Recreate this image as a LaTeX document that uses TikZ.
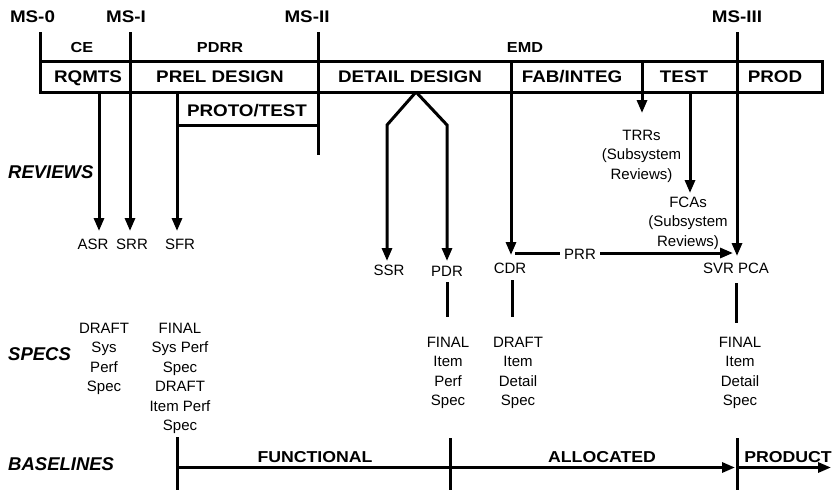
\documentclass[tikz,border=0pt]{standalone}
\usepackage{fontspec}
\setmainfont{Liberation Sans}
\newfontfamily\widesans{Liberation Sans}[FakeStretch=1.12]
\usetikzlibrary{arrows.meta}
\newcommand\stacklines[1]{\vtop{\baselineskip=19.5pt\lineskiplimit=-20pt\lineskip=0pt\halign{\hfil##\hfil\cr#1\crcr}}}
\begin{document}
\begin{tikzpicture}[x=1pt,y=-1pt,
  heavy/.style={line width=3pt},
  arrowline/.style={line width=3pt,-{Triangle[length=13pt,width=10pt]}},
  mslabel/.style={font=\widesans\bfseries\fontsize{16.8}{20}\selectfont,inner sep=0,anchor=base},
  phaselabel/.style={font=\widesans\bfseries\fontsize{14.5}{17}\selectfont,inner sep=0,anchor=base},
  barlabel/.style={font=\widesans\bfseries\fontsize{16.8}{20}\selectfont,inner sep=0,anchor=base},
  rowlabel/.style={font=\bfseries\itshape\fontsize{18.5}{22}\selectfont,inner sep=0,anchor=base west},
  revlabel/.style={font=\fontsize{15}{19.5}\selectfont,inner sep=0,anchor=base},
  baselabel/.style={font=\widesans\bfseries\fontsize{15.8}{19}\selectfont,inner sep=0,anchor=base},
]
\useasboundingbox (0,0) rectangle (835,490);

% ---------- milestone labels ----------
\node[mslabel] (ms0) at (32.5,22) {MS-0};
\node[mslabel] (ms1) at (126,22) {MS-I};
\node[mslabel] (ms2) at (307,22) {MS-II};
\node[mslabel] (ms3) at (737,22) {MS-III};

% ---------- key coordinates ----------
\coordinate (ms0top) at (40,32);
\coordinate (barTL) at (40,61.5);
\coordinate (barBR) at (822,92);
\coordinate (ms1top) at (130,32);
\coordinate (ms2top) at (318,32);
\coordinate (ms2end) at (318,155);
\coordinate (ms3top) at (737,32);
\coordinate (fabTop) at (511,61.5);
\coordinate (testTop) at (642,61.5);
\coordinate (asrStart) at (99,92);
\coordinate (sfrStart) at (177,92);
\coordinate (protoBL) at (177,125);
\coordinate (protoBR) at (318,125);
\coordinate (forkApex) at (416,92);
\coordinate (forkL) at (387,125);
\coordinate (forkR) at (447,125);
\coordinate (fcaStart) at (690,92);
\coordinate (asrTip) at (99,231);
\coordinate (srrTip) at (130,231);
\coordinate (sfrTip) at (177,231);
\coordinate (ssrTip) at (387,261);
\coordinate (pdrTip) at (447,261);
\coordinate (cdrTip) at (511,255);
\coordinate (svrTip) at (737,256);
\coordinate (trrTip) at (642,113);
\coordinate (fcaTip) at (690,193);
\coordinate (prrStart) at (515,253);
\coordinate (prrTip) at (733,253);

% ---------- phase bar ----------
\draw[heavy] (ms0top) -- (barTL);
\draw[heavy] (barTL) rectangle (barBR);

\node[phaselabel] (ce) at (82,52) {CE};
\node[phaselabel] (pdrr) at (220,52) {PDRR};
\node[phaselabel] (emd) at (525,52) {EMD};

\node[barlabel] (rqmts) at (88,82) {RQMTS};
\node[barlabel] (prel) at (220,82) {PREL DESIGN};
\node[barlabel] (detail) at (410,82) {DETAIL DESIGN};
\node[barlabel] (fab) at (572,82) {FAB/INTEG};
\node[barlabel] (test) at (684,82) {TEST};
\node[barlabel] (prod) at (775,82) {PROD};
\node[barlabel] (proto) at (247,116.5) {PROTO/TEST};

% ---------- milestone lines & review arrows ----------
\draw[heavy] (ms2top) -- (ms2end);
\draw[heavy] (protoBL) -- (protoBR);
\draw[arrowline] (ms1top) -- (srrTip);
\draw[arrowline] (asrStart) -- (asrTip);
\draw[arrowline] (sfrStart) -- (sfrTip);
\draw[arrowline, line join=miter] (forkApex) -- (forkL) -- (ssrTip);
\draw[arrowline, line join=miter] (forkApex) -- (forkR) -- (pdrTip);
\draw[arrowline] (fabTop) -- (cdrTip);
\draw[arrowline] (testTop) -- (trrTip);
\draw[arrowline] (fcaStart) -- (fcaTip);
\draw[arrowline] (ms3top) -- (svrTip);
\draw[arrowline] (prrStart) -- (prrTip);

% ---------- row labels ----------
\node[rowlabel] (reviews) at (8,178) {REVIEWS};
\node[rowlabel] (specs) at (8,360) {SPECS};
\node[rowlabel] (baselines) at (8,470) {BASELINES};

% ---------- review labels ----------
\node[revlabel] (asr) at (93,249) {ASR};
\node[revlabel] (srr) at (132,249) {SRR};
\node[revlabel] (sfr) at (180,249) {SFR};
\node[revlabel] (ssr) at (389,275) {SSR};
\node[revlabel] (pdr) at (447,276) {PDR};
\node[revlabel] (cdr) at (510,273) {CDR};
\node[revlabel] (svr) at (736,273) {SVR PCA};
\node[revlabel, fill=white, inner xsep=4pt] (prr) at (580,259) {PRR};
\node[revlabel] (trrs) at (641.5,140) {\stacklines{TRRs\cr(Subsystem\cr Reviews)}};
\node[revlabel] (fcas) at (688,207) {\stacklines{FCAs\cr(Subsystem\cr Reviews)}};

% ---------- stubs below labels ----------
\coordinate (pdrStubA) at (447,282);
\coordinate (pdrStubB) at (447,317);
\coordinate (cdrStubA) at (512,280);
\coordinate (cdrStubB) at (512,317);
\coordinate (svrStubA) at (736,283);
\coordinate (svrStubB) at (736,323);
\draw[heavy] (pdrStubA) -- (pdrStubB);
\draw[heavy] (cdrStubA) -- (cdrStubB);
\draw[heavy] (svrStubA) -- (svrStubB);

% ---------- specs ----------
\node[revlabel] (spec1) at (104,333) {\stacklines{DRAFT\cr Sys\cr Perf\cr Spec}};
\node[revlabel] (spec2) at (180,333) {\stacklines{FINAL\cr Sys Perf\cr Spec\cr DRAFT\cr Item Perf\cr Spec}};
\node[revlabel] (spec3) at (448,347) {\stacklines{FINAL\cr Item\cr Perf\cr Spec}};
\node[revlabel] (spec4) at (518,347) {\stacklines{DRAFT\cr Item\cr Detail\cr Spec}};
\node[revlabel] (spec5) at (740,347) {\stacklines{FINAL\cr Item\cr Detail\cr Spec}};

% ---------- baselines ----------
\coordinate (fTickA) at (177,437);
\coordinate (fTickB) at (177,490);
\coordinate (aTickA) at (450,438);
\coordinate (aTickB) at (450,490);
\coordinate (pTickA) at (737,438);
\coordinate (pTickB) at (737,490);
\coordinate (fLine) at (177,467.5);
\coordinate (aLine) at (450,467.5);
\coordinate (aTip) at (735,467.5);
\coordinate (pLine) at (737,467.5);
\coordinate (pTip) at (831,467.5);
\draw[heavy] (fTickA) -- (fTickB);
\draw[heavy] (aTickA) -- (aTickB);
\draw[heavy] (pTickA) -- (pTickB);
\draw[heavy] (fLine) -- (aLine);
\draw[arrowline] (aLine) -- (aTip);
\draw[arrowline] (pLine) -- (pTip);

\node[baselabel] (functional) at (315,462) {FUNCTIONAL};
\node[baselabel] (allocated) at (602,462) {ALLOCATED};
\node[baselabel] (product) at (788,462) {PRODUCT};
\end{tikzpicture}
\end{document}
